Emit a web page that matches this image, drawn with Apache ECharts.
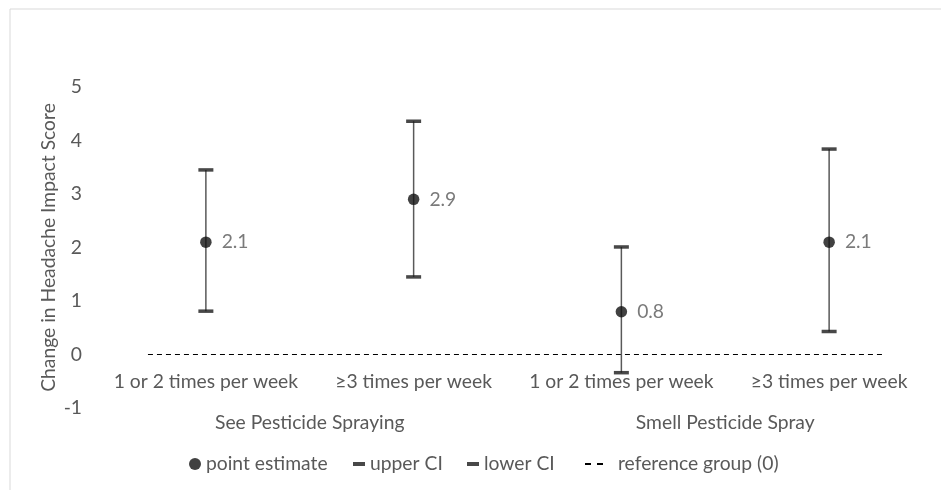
<!DOCTYPE html>
<html><head><meta charset="utf-8">
<script src="https://cdn.jsdelivr.net/npm/echarts@6/dist/echarts.min.js"></script>
<style>html,body{margin:0;padding:0;background:#fff}#c{width:941px;height:490px}</style>
</head><body><div id="c"></div>
<script>
var categories = ['1 or 2 times per week', '≥3 times per week', '1 or 2 times per week', '≥3 times per week'];
var groups = ['See Pesticide Spraying', 'Smell Pesticide Spray'];
var pointEstimate = [2.1, 2.9, 0.8, 2.1];
var upperCI = [3.45, 4.36, 2.01, 3.84];
var lowerCI = [0.81, 1.45, -0.34, 0.43];
var refX = [0, 1];
var refY = [0, 0];
var yTicks = {min: -1, max: 5, interval: 1};

var FONT = 'Lato';
var FS = 19.3;
var GREY = '#595959';

var chart = echarts.init(document.getElementById('c'));
var errData = pointEstimate.map(function(v, i){ return [i, lowerCI[i], upperCI[i]]; });
var legendText = {color: GREY, fontFamily: FONT, fontSize: FS, lineHeight: 22};
chart.setOption({
  animation: false,
  textStyle: {fontFamily: FONT},
  graphic: [{type: 'rect', shape: {x: 10, y: 9, width: 940, height: 490}, style: {fill: 'none', stroke: '#d9d9d9', lineWidth: 1}, silent: true}],
  grid: {left: 102, right: 8, top: 87, bottom: 82},
  legend: [
    {data: [{name: 'point estimate', icon: 'circle'}], left: 184, top: 448, itemWidth: 12, itemHeight: 12, textStyle: legendText},
    {data: [{name: 'upper CI', icon: 'rect'}], left: 348, top: 448, itemWidth: 12, itemHeight: 4, textStyle: legendText},
    {data: [{name: 'lower CI', icon: 'rect'}], left: 462, top: 448, itemWidth: 12, itemHeight: 4, textStyle: legendText},
    {data: [{name: 'reference group (0)', icon: 'path://M0,0h6v2h-6z M12,0h6v2h-6z'}], left: 580, top: 448, itemWidth: 18, itemHeight: 2, textStyle: Object.assign({}, legendText, {padding: [0, 0, 0, 10]})}
  ],
  xAxis: [
    {type: 'category', data: categories, position: 'bottom', offset: -53.5, axisLine: {show: false, onZero: false}, axisTick: {show: false},
     axisLabel: {color: GREY, fontFamily: FONT, fontSize: FS, margin: 18, interval: 0}},
    {type: 'category', data: groups, position: 'bottom', axisLine: {show: false, onZero: false}, axisTick: {show: false},
     axisLabel: {color: GREY, fontFamily: FONT, fontSize: FS, margin: 5, interval: 0}},
    {type: 'value', min: -0.0625, max: 1.068, show: false}
  ],
  yAxis: {type: 'value', min: yTicks.min, max: yTicks.max, interval: yTicks.interval,
    name: 'Change in Headache Impact Score', nameLocation: 'middle', nameGap: 44, nameRotate: 90, nameMoveOverlap: false,
    nameTextStyle: {color: GREY, fontFamily: FONT, fontSize: FS},
    axisLine: {show: false}, axisTick: {show: false}, splitLine: {show: false},
    axisLabel: {color: GREY, fontFamily: FONT, fontSize: FS, margin: 20}},
  series: [
    {type: 'custom', name: 'ci', xAxisIndex: 0, data: errData, z: 2, silent: true,
     renderItem: function(params, api){
       var a = api.coord([api.value(0), api.value(1)]);
       var b = api.coord([api.value(0), api.value(2)]);
       return {type: 'line', shape: {x1: a[0], y1: a[1], x2: b[0], y2: b[1]}, style: {stroke: '#595959', lineWidth: 1.5}};
     }},
    {type: 'scatter', name: 'upper CI', xAxisIndex: 0, data: upperCI, symbol: 'rect', symbolSize: [15, 3.5], itemStyle: {color: '#1a1a1a'}, z: 3},
    {type: 'scatter', name: 'lower CI', xAxisIndex: 0, data: lowerCI, symbol: 'rect', symbolSize: [15, 3.5], itemStyle: {color: '#1a1a1a'}, z: 3},
    {type: 'line', name: 'reference group (0)', xAxisIndex: 2, data: refX.map(function(x, i){ return [x, refY[i]]; }), symbol: 'none',
     lineStyle: {color: '#000', width: 1.2, type: [5, 4]}, itemStyle: {color: '#000'}, z: 1},
    {type: 'scatter', name: 'point estimate', xAxisIndex: 0, data: pointEstimate, symbol: 'circle', symbolSize: 11.5, itemStyle: {color: '#111'}, z: 4,
     label: {show: true, position: 'right', distance: 10, color: GREY, fontFamily: FONT, fontSize: FS,
       formatter: function(p){ return p.value.toFixed(1); }}}
  ]
});
</script></body></html>
